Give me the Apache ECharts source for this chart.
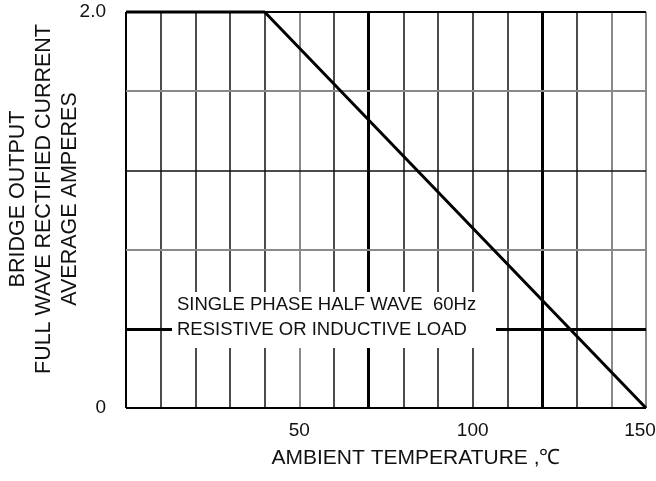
<!DOCTYPE html>
<html>
<head>
<meta charset="utf-8">
<script src="https://cdn.jsdelivr.net/npm/echarts@6/dist/echarts.min.js"></script>
<style>
  html, body { margin: 0; padding: 0; background: #fff; }
  #chart { width: 656px; height: 481px; }
</style>
</head>
<body>
<div id="chart"></div>
<script>
'use strict';
// derating curve: temperature (C) vs average output current (A)
var tempPoints = [0, 40, 150];
var currentPoints = [2.0, 2.0, 0];

// grid values
var xGrid = [0, 10, 20, 30, 40, 50, 60, 70, 80, 90, 100, 110, 120, 130, 140, 150];
var yGrid = [0, 0.4, 0.8, 1.2, 1.6, 2.0];
var xLabelsShown = [50, 100, 150];
var yLabelsShown = [0, 2.0];

// which grid lines are heavy / light
var heavyX = [70, 120];
var lightX = [50, 140, 150];
var heavyY = [0.4];
var lightY = [0.8, 1.6];

var noteLines = ['SINGLE PHASE HALF WAVE  60Hz', 'RESISTIVE OR INDUCTIVE LOAD'];

var FONT = '"Liberation Sans", Arial, sans-serif';

function gridStyle(v, heavy, light) {
    if (heavy.indexOf(v) >= 0) return {color: '#000', width: 3, type: 'solid'};
    if (light.indexOf(v) >= 0) return {color: '#8a8a8a', width: 2, type: 'solid'};
    return {color: '#111', width: 1.5, type: 'solid'};
}

var gridLines = [];
xGrid.forEach(function (v) {
    var st = gridStyle(v, heavyX, lightX);
    if (v === 0) st = {color: '#000', width: 2, type: 'solid'};
    gridLines.push({xAxis: v, lineStyle: st});
});
yGrid.forEach(function (v) {
    var st = gridStyle(v, heavyY, lightY);
    if (v === 0 || v === 2.0) st = {color: '#000', width: 2, type: 'solid'};
    gridLines.push({yAxis: v, lineStyle: st});
});

var curve = tempPoints.map(function (t, i) { return [t, currentPoints[i]]; });
var xMax = xGrid[xGrid.length - 1];

var myChart = echarts.init(document.getElementById('chart'));
var option = {
    backgroundColor: '#fff',
    animation: false,
    grid: {left: 126, right: 10, top: 12, bottom: 73, outerBoundsMode: 'none', containLabel: false},
    xAxis: {
        type: 'value',
        min: 0, max: 150, interval: 10,
        axisLine: {show: false},
        axisTick: {show: false},
        splitLine: {show: false},
        axisLabel: {
            margin: 13,
            color: '#111',
            fontFamily: FONT,
            fontSize: 19,
            rich: {last: {fontFamily: FONT, fontSize: 19, color: '#111', padding: [0, 12, 0, 0]}},
            formatter: function (v) {
                if (xLabelsShown.indexOf(v) < 0) return '';
                // keep the last label inside the page
                return v === xMax ? '{last|' + v + '}' : String(v);
            }
        },
        name: 'AMBIENT TEMPERATURE ,\u2103',
        nameLocation: 'middle',
        nameGap: 40,
        nameMoveOverlap: false,
        nameTextStyle: {color: '#111', fontFamily: FONT, fontSize: 21, padding: [0, 0, 0, 60]}
    },
    yAxis: {
        type: 'value',
        min: 0, max: 2.0, interval: 0.4,
        axisLine: {show: false},
        axisTick: {show: false},
        splitLine: {show: false},
        axisLabel: {
            margin: 20,
            color: '#111',
            fontFamily: FONT,
            fontSize: 19,
            formatter: function (v) {
                if (yLabelsShown.indexOf(v) < 0) return '';
                return v === 0 ? '0' : v.toFixed(1);
            }
        },
        name: 'BRIDGE OUTPUT\nFULL WAVE RECTIFIED CURRENT\nAVERAGE AMPERES',
        nameLocation: 'middle',
        nameRotate: 90,
        nameGap: 43,
        nameMoveOverlap: false,
        nameTextStyle: {color: '#111', fontFamily: FONT, fontSize: 21.5, lineHeight: 26, align: 'center', padding: [0, 0, 0, 22]}
    },
    graphic: [
        {type: 'rect', z: 100, shape: {x: 172, y: 292, width: 324, height: 56}, style: {fill: '#fff'}},
        {type: 'text', z: 101, x: 177, y: 305,
         style: {text: noteLines[0], font: '18.5px ' + FONT, fill: '#111', verticalAlign: 'middle'}},
        {type: 'text', z: 101, x: 177, y: 330,
         style: {text: noteLines[1], font: '18.5px ' + FONT, fill: '#111', verticalAlign: 'middle'}}
    ],
    series: [
        {
            type: 'line',
            data: curve,
            clip: false,
            symbol: 'none',
            lineStyle: {color: '#000', width: 3},
            z: 5,
            markLine: {
                silent: true,
                symbol: 'none',
                label: {show: false},
                z: 3,
                data: gridLines
            }
        }
    ]
};
myChart.setOption(option);
</script>
</body>
</html>
